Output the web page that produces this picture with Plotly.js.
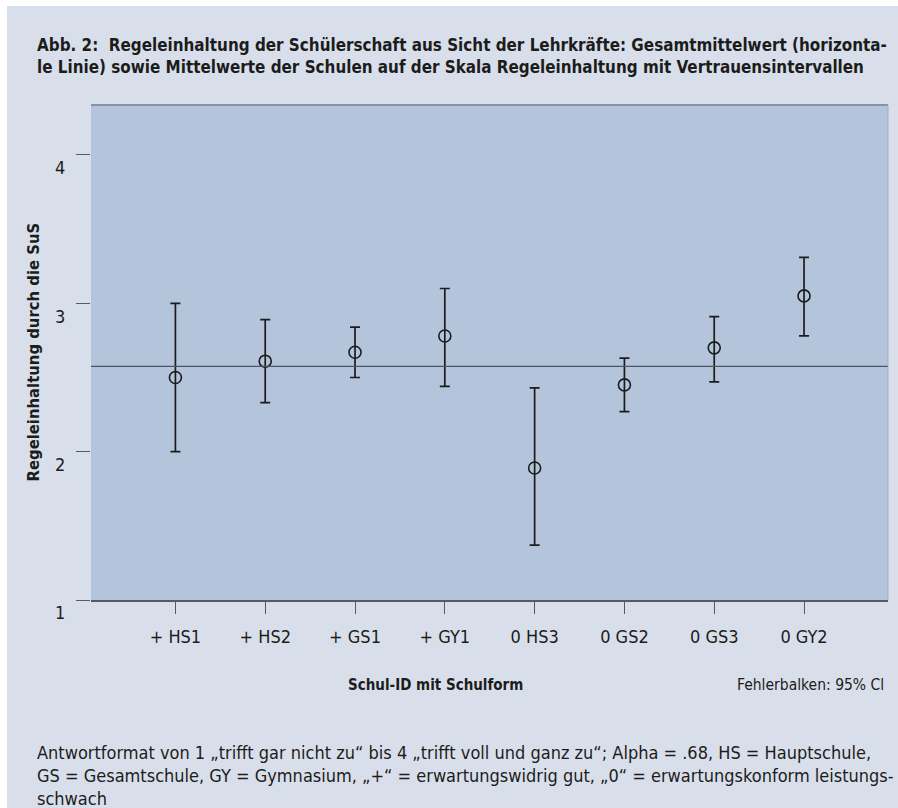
<!DOCTYPE html>
<html>
<head>
<meta charset="utf-8">
<script src="https://cdn.plot.ly/plotly-3.0.1.min.js"></script>
<style>
  html, body { margin: 0; padding: 0; background: #ffffff; }
  #bg { position: absolute; left: 7px; top: 6px; width: 891px; height: 802px; background: #d9dfea; }
  #chart { position: absolute; left: 0; top: 0; width: 898px; height: 808px; }
</style>
</head>
<body>
<div id="bg"></div>
<div id="chart"></div>
<script>
// ---- data ----
const schools = ['+ HS1', '+ HS2', '+ GS1', '+ GY1', '0 HS3', '0 GS2', '0 GS3', '0 GY2'];
const means   = [2.50, 2.61, 2.67, 2.78, 1.89, 2.45, 2.70, 3.05];
const ciUpper = [3.00, 2.89, 2.84, 3.10, 2.43, 2.63, 2.91, 3.31];
const ciLower = [2.00, 2.33, 2.50, 2.44, 1.37, 2.27, 2.47, 2.78];
const grandMean = 2.575;
const yTicks = [1, 2, 3, 4];

const titleLines = [
  'Abb. 2:  Regeleinhaltung der Schülerschaft aus Sicht der Lehrkräfte: Gesamtmittelwert (horizonta-',
  'le Linie) sowie Mittelwerte der Schulen auf der Skala Regeleinhaltung mit Vertrauensintervallen'
];
const noteLines = [
  'Antwortformat von 1 „trifft gar nicht zu“ bis 4 „trifft voll und ganz zu“; Alpha = .68, HS = Hauptschule,',
  'GS = Gesamtschule, GY = Gymnasium, „+“ = erwartungswidrig gut, „0“ = erwartungskonform leistungs-',
  'schwach'
];

// ---- layout geometry (pixels) ----
const W = 898, H = 808;
const L = 91, R = 10, T = 105, B = 208;
const pw = W - L - R, ph = H - T - B;
const px = x => (x - L) / pw;          // pixel x -> paper x
const py = y => (H - B - y) / ph;      // pixel y -> paper y

const FONT = '"Liberation Sans Narrow", "DejaVu Sans Condensed", "Open Sans", sans-serif';
const ink = '#1c1c1c';

const errPlus  = means.map((m, i) => ciUpper[i] - m);
const errMinus = means.map((m, i) => m - ciLower[i]);

const trace = {
  type: 'scatter',
  mode: 'markers',
  x: schools,
  y: means,
  marker: { symbol: 'circle-open', size: 12, color: ink, line: { width: 1.6, color: ink } },
  error_y: {
    type: 'data', symmetric: false,
    array: errPlus, arrayminus: errMinus,
    color: ink, thickness: 1.7, width: 5
  },
  hoverinfo: 'x+y',
  showlegend: false
};

const annotations = [];
titleLines.forEach((t, i) => annotations.push({
  xref: 'paper', yref: 'paper', x: px(35), y: py(45 + i * 22),
  xanchor: 'left', yanchor: 'middle', showarrow: false,
  text: '<b>' + t + '</b>', font: { family: FONT, size: 16.9, color: ink }
}));
noteLines.forEach((t, i) => annotations.push({
  xref: 'paper', yref: 'paper', x: px(35), y: py(752 + i * 23),
  xanchor: 'left', yanchor: 'middle', showarrow: false,
  text: t, font: { family: FONT, size: 18, color: ink }
}));
annotations.push({
  xref: 'paper', yref: 'paper', x: px(33), y: 0.5, textangle: -90,
  xanchor: 'center', yanchor: 'middle', showarrow: false,
  text: '<b>Regeleinhaltung durch die SuS</b>', font: { family: FONT, size: 16.5, color: ink }
});
annotations.push({
  xref: 'paper', yref: 'paper', x: px(435), y: py(685),
  xanchor: 'center', yanchor: 'middle', showarrow: false,
  text: '<b>Schul-ID mit Schulform</b>', font: { family: FONT, size: 15, color: ink }
});
annotations.push({
  xref: 'paper', yref: 'paper', x: px(886), y: py(685),
  xanchor: 'right', yanchor: 'middle', showarrow: false,
  text: 'Fehlerbalken: 95% Cl', font: { family: FONT, size: 15.5, color: ink }
});

const layout = {
  width: W, height: H,
  margin: { l: L, r: R, t: T, b: B, pad: 0 },
  paper_bgcolor: 'rgba(0,0,0,0)',
  plot_bgcolor: '#b4c4db',
  font: { family: FONT, color: ink, size: 17 },
  xaxis: {
    type: 'category',
    range: [-0.94, 7.935],
    showgrid: false, zeroline: false,
    showline: true, linecolor: '#555a63', linewidth: 1.5,
    ticks: 'outside', ticklen: 12, tickwidth: 1, tickcolor: '#555a63',
    ticklabelstandoff: 8,
    tickfont: { family: FONT, size: 18, color: ink },
    fixedrange: true
  },
  yaxis: {
    range: [1, 4.337],
    tickvals: yTicks,
    showgrid: false, zeroline: false, showline: false,
    ticks: 'outside', ticklen: 14, tickwidth: 1, tickcolor: '#555a63',
    ticklabelstandoff: 7, ticklabelshift: 13,
    tickfont: { family: FONT, size: 18, color: ink },
    fixedrange: true
  },
  shapes: [
    { type: 'line', xref: 'paper', yref: 'y', x0: 0, x1: 1, y0: grandMean, y1: grandMean,
      line: { color: '#4f5560', width: 1.2 } },
    { type: 'line', xref: 'paper', yref: 'paper', x0: 0, x1: 1, y0: 1, y1: 1,
      line: { color: '#8a93a4', width: 2 } },
    { type: 'line', xref: 'paper', yref: 'paper', x0: 1, x1: 1, y0: 0, y1: 1,
      line: { color: '#9fadc4', width: 1 } }
  ],
  annotations: annotations
};

Plotly.newPlot('chart', [trace], layout, { displayModeBar: false, staticPlot: true });
</script>
</body>
</html>
